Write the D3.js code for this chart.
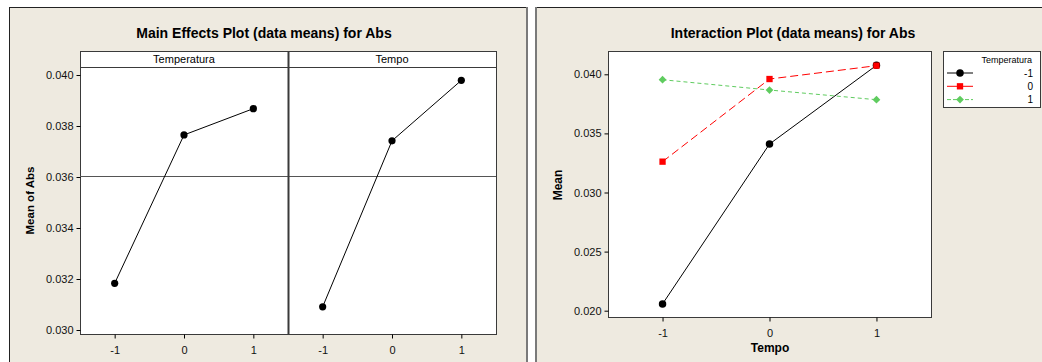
<!DOCTYPE html>
<html>
<head>
<meta charset="utf-8">
<script src="https://cdn.jsdelivr.net/npm/d3@7"></script>
<style>
  body { margin: 0; background: #fff; }
  svg { display: block; font-family: "Liberation Sans", Arial, sans-serif; }
</style>
</head>
<body>
<div id="chart"></div>
<script>
// main effects data
const levels = [-1, 0, 1];
const factors = ["Temperatura", "Tempo"];
const tempMeans = [0.03183, 0.03765, 0.03868];
const tempoMeans = [0.03091, 0.03742, 0.03979];
const grandMean = 0.03605;
const mainTicks = [0.030, 0.032, 0.034, 0.036, 0.038, 0.040];

// interaction data (series = Temperatura level, x = Tempo)
const tempLevels = ["-1", "0", "1"];
const interM1 = [0.02057, 0.0341, 0.04076];
const inter0 = [0.03261, 0.0396, 0.04073];
const inter1 = [0.03954, 0.03867, 0.03785];
const interTicks = [0.020, 0.025, 0.030, 0.035, 0.040];

const W = 1042, H = 362;
const bg = "#eeeae0";
const frame = "#3a3a3a";
const fmtLevel = d => String(d);

const svg = d3.select("#chart").append("svg")
  .attr("width", W).attr("height", H);

// panel backgrounds
function panel(x0, x1) {
  svg.append("rect").attr("x", x0).attr("y", 7).attr("width", x1 - x0).attr("height", H - 7).attr("fill", bg);
  svg.append("line").attr("x1", x0).attr("x2", x1).attr("y1", 7.5).attr("y2", 7.5).attr("stroke", "#222");
  svg.append("line").attr("x1", x0 + 0.5).attr("x2", x0 + 0.5).attr("y1", 7).attr("y2", H).attr("stroke", "#222");
}
panel(9, 528);
panel(535, W);
svg.append("line").attr("x1", 527).attr("x2", 527).attr("y1", 7).attr("y2", H).attr("stroke", "#7a7a7a").attr("stroke-width", 2);
svg.append("line").attr("x1", 536).attr("x2", 536).attr("y1", 7).attr("y2", H).attr("stroke", "#7a7a7a").attr("stroke-width", 2);

function styleTicks(g, dy) {
  g.select(".domain").remove();
  g.selectAll("text").attr("font-size", 11).attr("fill", "#111").attr("font-family", "Liberation Sans");
  if (dy) g.selectAll("text").attr("dy", dy);
}

// ---------- main effects plot ----------
const m = { left: 80, right: 496, top: 51, strip: 67, bottom: 334 };
const mid = (m.left + m.right) / 2;
const yMain = d3.scaleLinear().domain([0.030, 0.040]).range([330, 75]);

svg.append("text").attr("x", 264).attr("y", 38).attr("text-anchor", "middle")
  .attr("font-weight", "bold").attr("font-size", 14).text("Main Effects Plot (data means) for Abs");

const left = svg.append("g");
left.append("rect").attr("x", m.left + 0.5).attr("y", m.top + 0.5)
  .attr("width", m.right - m.left).attr("height", m.bottom - m.top)
  .attr("fill", "#fff").attr("stroke", frame);
left.append("line").attr("x1", m.left).attr("x2", m.right).attr("y1", m.strip + 0.5).attr("y2", m.strip + 0.5).attr("stroke", frame);
left.append("line").attr("x1", m.left).attr("x2", m.right)
  .attr("y1", Math.round(yMain(grandMean)) + 0.5).attr("y2", Math.round(yMain(grandMean)) + 0.5)
  .attr("stroke", "#555");
left.append("line").attr("x1", mid + 0.5).attr("x2", mid + 0.5).attr("y1", m.top).attr("y2", m.bottom)
  .attr("stroke", frame).attr("stroke-width", 2);

left.append("g").attr("transform", `translate(${m.left + 0.5},0)`)
  .call(d3.axisLeft(yMain).tickValues(mainTicks).tickFormat(d3.format(".3f")).tickSize(4).tickSizeOuter(0))
  .call(g => styleTicks(g));

left.append("text").attr("transform", `translate(34,${(m.strip + m.bottom) / 2}) rotate(-90)`)
  .attr("text-anchor", "middle").attr("font-weight", "bold").attr("font-size", 11.5).text("Mean of Abs");

[tempMeans, tempoMeans].forEach((vals, i) => {
  const x0 = i === 0 ? m.left : mid;
  const x1 = i === 0 ? mid : m.right;
  const xs = d3.scaleLinear().domain([-1.5, 1.5]).range([x0, x1]);
  left.append("text").attr("x", (x0 + x1) / 2).attr("y", 63).attr("text-anchor", "middle")
    .attr("font-size", 11).text(factors[i]);
  left.append("g").attr("transform", `translate(0,${m.bottom + 0.5})`)
    .call(d3.axisBottom(xs).tickValues(levels).tickFormat(fmtLevel).tickSize(4).tickSizeOuter(0))
    .call(g => styleTicks(g, "1.1em"));
  const pts = levels.map((l, j) => [xs(l), yMain(vals[j])]);
  left.append("path").attr("d", d3.line()(pts)).attr("fill", "none").attr("stroke", "#000");
  left.selectAll(null).data(pts).join("circle")
    .attr("cx", d => d[0]).attr("cy", d => d[1]).attr("r", 3.6).attr("fill", "#000");
});

// ---------- interaction plot ----------
const p = { left: 608, right: 931, top: 51, bottom: 317 };
const xInt = d3.scaleLinear().domain([-1.51, 1.51]).range([p.left, p.right]);
const yInt = d3.scaleLinear().domain([0.020, 0.040]).range([310.7, 74.3]);

svg.append("text").attr("x", 793).attr("y", 38).attr("text-anchor", "middle")
  .attr("font-weight", "bold").attr("font-size", 14).text("Interaction Plot (data means) for Abs");

const right = svg.append("g");
right.append("rect").attr("x", p.left + 0.5).attr("y", p.top + 0.5)
  .attr("width", p.right - p.left).attr("height", p.bottom - p.top)
  .attr("fill", "#fff").attr("stroke", frame);

right.append("g").attr("transform", `translate(${p.left + 0.5},0)`)
  .call(d3.axisLeft(yInt).tickValues(interTicks).tickFormat(d3.format(".3f")).tickSize(4).tickSizeOuter(0))
  .call(g => styleTicks(g));
right.append("g").attr("transform", `translate(0,${p.bottom + 0.5})`)
  .call(d3.axisBottom(xInt).tickValues(levels).tickFormat(fmtLevel).tickSize(4).tickSizeOuter(0))
  .call(g => styleTicks(g, "1.1em"));

right.append("text").attr("x", 770).attr("y", 352).attr("text-anchor", "middle")
  .attr("font-weight", "bold").attr("font-size", 12).text("Tempo");
right.append("text").attr("transform", `translate(562,185) rotate(-90)`)
  .attr("text-anchor", "middle").attr("font-weight", "bold").attr("font-size", 12).text("Mean");

const series = [
  { vals: interM1, color: "#000", dash: null, shape: d3.symbolCircle, size: 44, rot: 0 },
  { vals: inter0, color: "#ff0000", dash: "8,4", shape: d3.symbolSquare, size: 40, rot: 0 },
  { vals: inter1, color: "#5fcc5f", dash: "4,3", shape: d3.symbolSquare, size: 30, rot: 45 }
];

series.forEach(s => {
  const pts = levels.map((l, j) => [xInt(l), yInt(s.vals[j])]);
  right.append("path").attr("d", d3.line()(pts)).attr("fill", "none")
    .attr("stroke", s.color).attr("stroke-dasharray", s.dash);
  right.selectAll(null).data(pts).join("path")
    .attr("transform", d => `translate(${d[0]},${d[1]}) rotate(${s.rot})`)
    .attr("d", d3.symbol(s.shape, s.size)).attr("fill", s.color);
});

// legend
const lg = right.append("g");
lg.append("rect").attr("x", 943.5).attr("y", 51.5).attr("width", 97).attr("height", 56)
  .attr("fill", "#fff").attr("stroke", frame);
lg.append("text").attr("x", 1032).attr("y", 63).attr("text-anchor", "end").attr("font-size", 9).text("Temperatura");
series.forEach((s, i) => {
  const y = 73 + i * 13.3;
  lg.append("line").attr("x1", 947).attr("x2", 973).attr("y1", y).attr("y2", y)
    .attr("stroke", s.color).attr("stroke-dasharray", i === 2 ? "4,2" : null);
  lg.append("path").attr("transform", `translate(960,${y}) rotate(${s.rot})`)
    .attr("d", d3.symbol(s.shape, s.size)).attr("fill", s.color);
  lg.append("text").attr("x", 1033).attr("y", y + 3.5).attr("text-anchor", "end")
    .attr("font-size", 10).text(tempLevels[i]);
});
</script>
</body>
</html>
